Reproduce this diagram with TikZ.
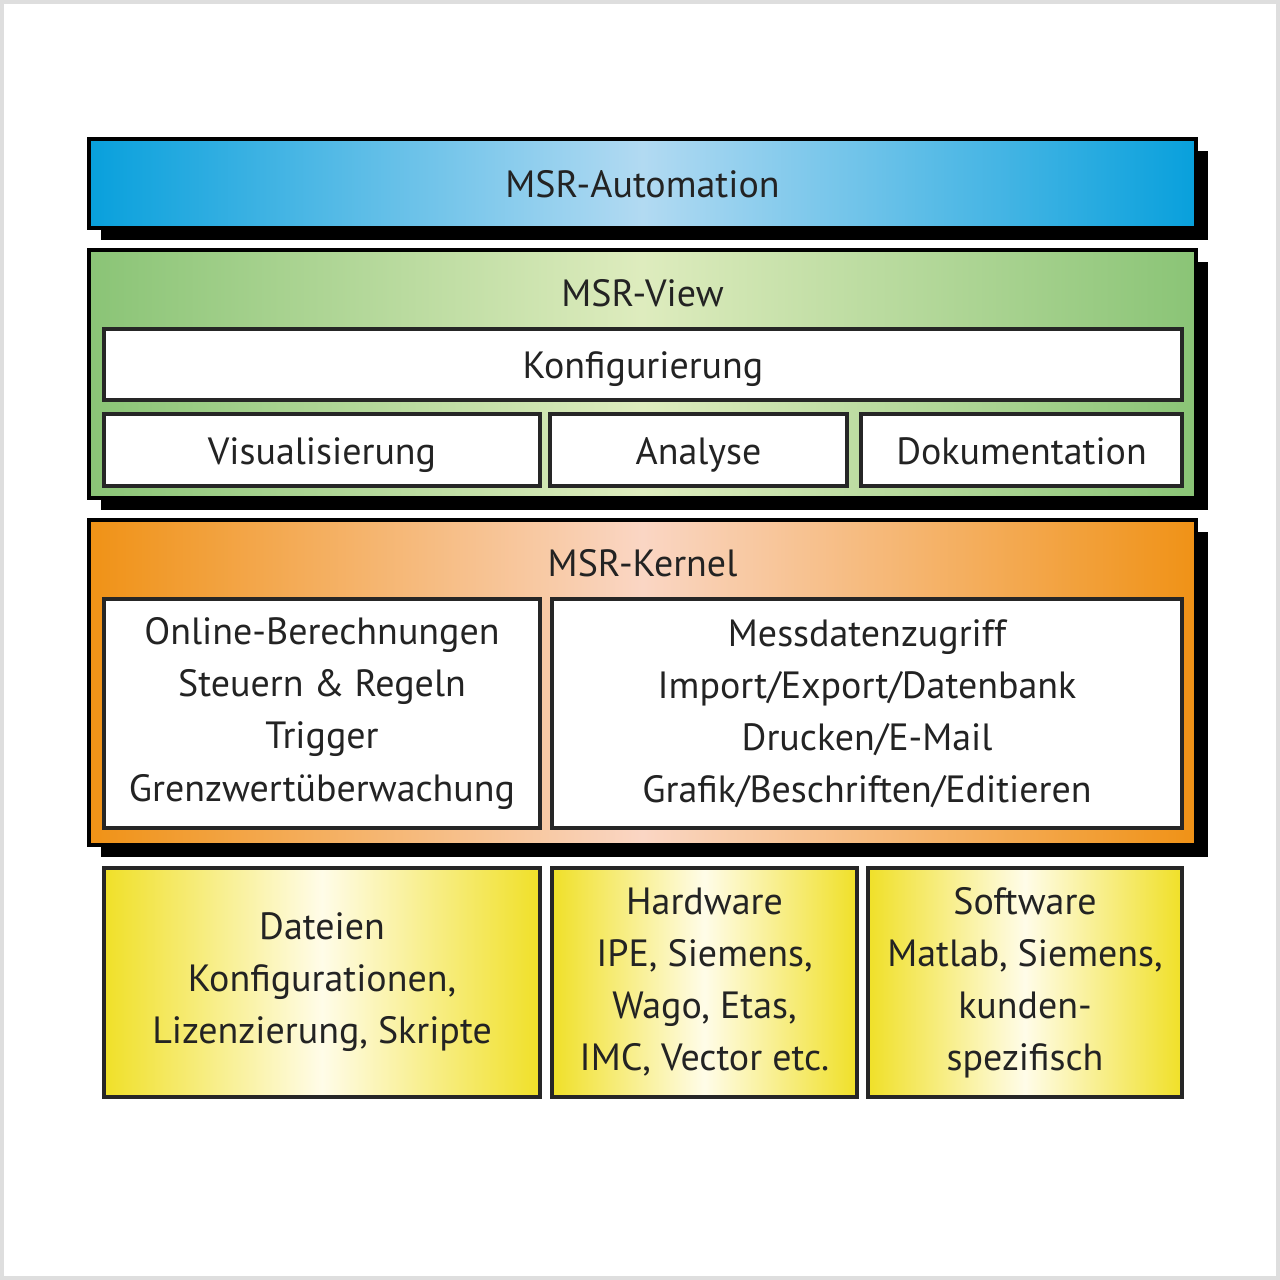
\documentclass[tikz,border=0pt]{standalone}
\usepackage{fontspec}
\setmainfont{PT Sans}
\usetikzlibrary{positioning,shadows}
\definecolor{msrblue}{RGB}{8,160,220}
\definecolor{msrlightblue}{RGB}{178,218,242}
\definecolor{msrgreen}{RGB}{138,196,118}
\definecolor{msrlightgreen}{RGB}{222,236,190}
\definecolor{msrorange}{RGB}{240,146,22}
\definecolor{msrpeach}{RGB}{250,214,196}
\definecolor{msryellow}{RGB}{240,224,40}
\definecolor{msrcream}{RGB}{255,252,232}
\definecolor{textgray}{RGB}{35,35,35}
\definecolor{framegray}{RGB}{222,222,222}
\tikzset{
  panel/.style={
    rectangle,
    draw=black,
    line width=1pt,
    text=textgray,
    drop shadow={fill=black, opacity=1, shadow xshift=0.12cm, shadow yshift=-0.12cm}
  },
  bluepanel/.style={panel, left color=msrblue, right color=msrblue, middle color=msrlightblue,
    text height=2.1ex, text depth=0.45ex},
  greenpanel/.style={panel, left color=msrgreen, right color=msrgreen, middle color=msrlightgreen},
  orangepanel/.style={panel, left color=msrorange, right color=msrorange, middle color=msrpeach},
  whitebox/.style={
    rectangle,
    draw=black!85,
    line width=1pt,
    fill=white,
    text=textgray,
    align=center
  },
  linebox/.style={whitebox, text height=2.1ex, text depth=0.45ex},
  yellowbox/.style={whitebox, left color=msryellow, right color=msryellow, middle color=msrcream},
  title/.style={text=textgray}
}

\begin{document}
\begin{tikzpicture}[font=\fontsize{10.8}{14.8}\selectfont]
        % frame
        \fill[framegray] (0,0) rectangle (12.8,12.8);
        \fill[white] (0.04,0.04) rectangle (12.76,12.76);
        % layers
        \node[bluepanel, minimum width=11.07cm, minimum height=0.89cm] (auto) at (6.425,10.965) {MSR-Automation};
        \node[greenpanel, minimum width=11.07cm, minimum height=2.48cm] (view) at (6.425,9.06) {};
        \node[orangepanel, minimum width=11.07cm, minimum height=3.25cm] (kernel) at (6.425,5.975) {};
        \node[title] (viewtitle) at ([yshift=-0.45cm]view.north) {MSR-View};
        \node[title] (kerneltitle) at ([yshift=-0.45cm]kernel.north) {MSR-Kernel};
        % MSR-View
        \node[linebox, minimum width=10.78cm, minimum height=0.71cm] (config) at (6.43,9.155) {Konfigurierung};
        \node[linebox, minimum width=4.36cm, minimum height=0.72cm] (vis) at (3.22,8.30) {Visualisierung};
        \node[linebox, minimum width=2.97cm, minimum height=0.72cm] (analyse) at (6.985,8.30) {Analyse};
        \node[linebox, minimum width=3.21cm, minimum height=0.72cm] (doku) at (10.215,8.30) {Dokumentation};
        % MSR-Kernel
        \node[whitebox, minimum width=4.36cm, minimum height=2.29cm] (online) at (3.22,5.665)
          {Online-Berechnungen\\Steuern \& Regeln\\Trigger\\Grenzwertüberwachung};
        \node[whitebox, minimum width=6.30cm, minimum height=2.29cm] (daten) at (8.67,5.665)
          {Messdatenzugriff\\Import/Export/Datenbank\\Drucken/E-Mail\\Grafik/Beschriften/Editieren};
        % basis
        \node[yellowbox, minimum width=4.36cm, minimum height=2.29cm] (dateien) at (3.22,2.975)
          {Dateien\\Konfigurationen,\\Lizenzierung, Skripte};
        \node[yellowbox, minimum width=3.05cm, minimum height=2.29cm] (hardware) at (7.045,2.975)
          {Hardware\\IPE, Siemens,\\Wago, Etas,\\IMC, Vector etc.};
        \node[yellowbox, minimum width=3.14cm, minimum height=2.29cm] (software) at (10.25,2.975)
          {Software\\Matlab, Siemens,\\kunden-\\spezifisch};
      \end{tikzpicture}
\end{document}
